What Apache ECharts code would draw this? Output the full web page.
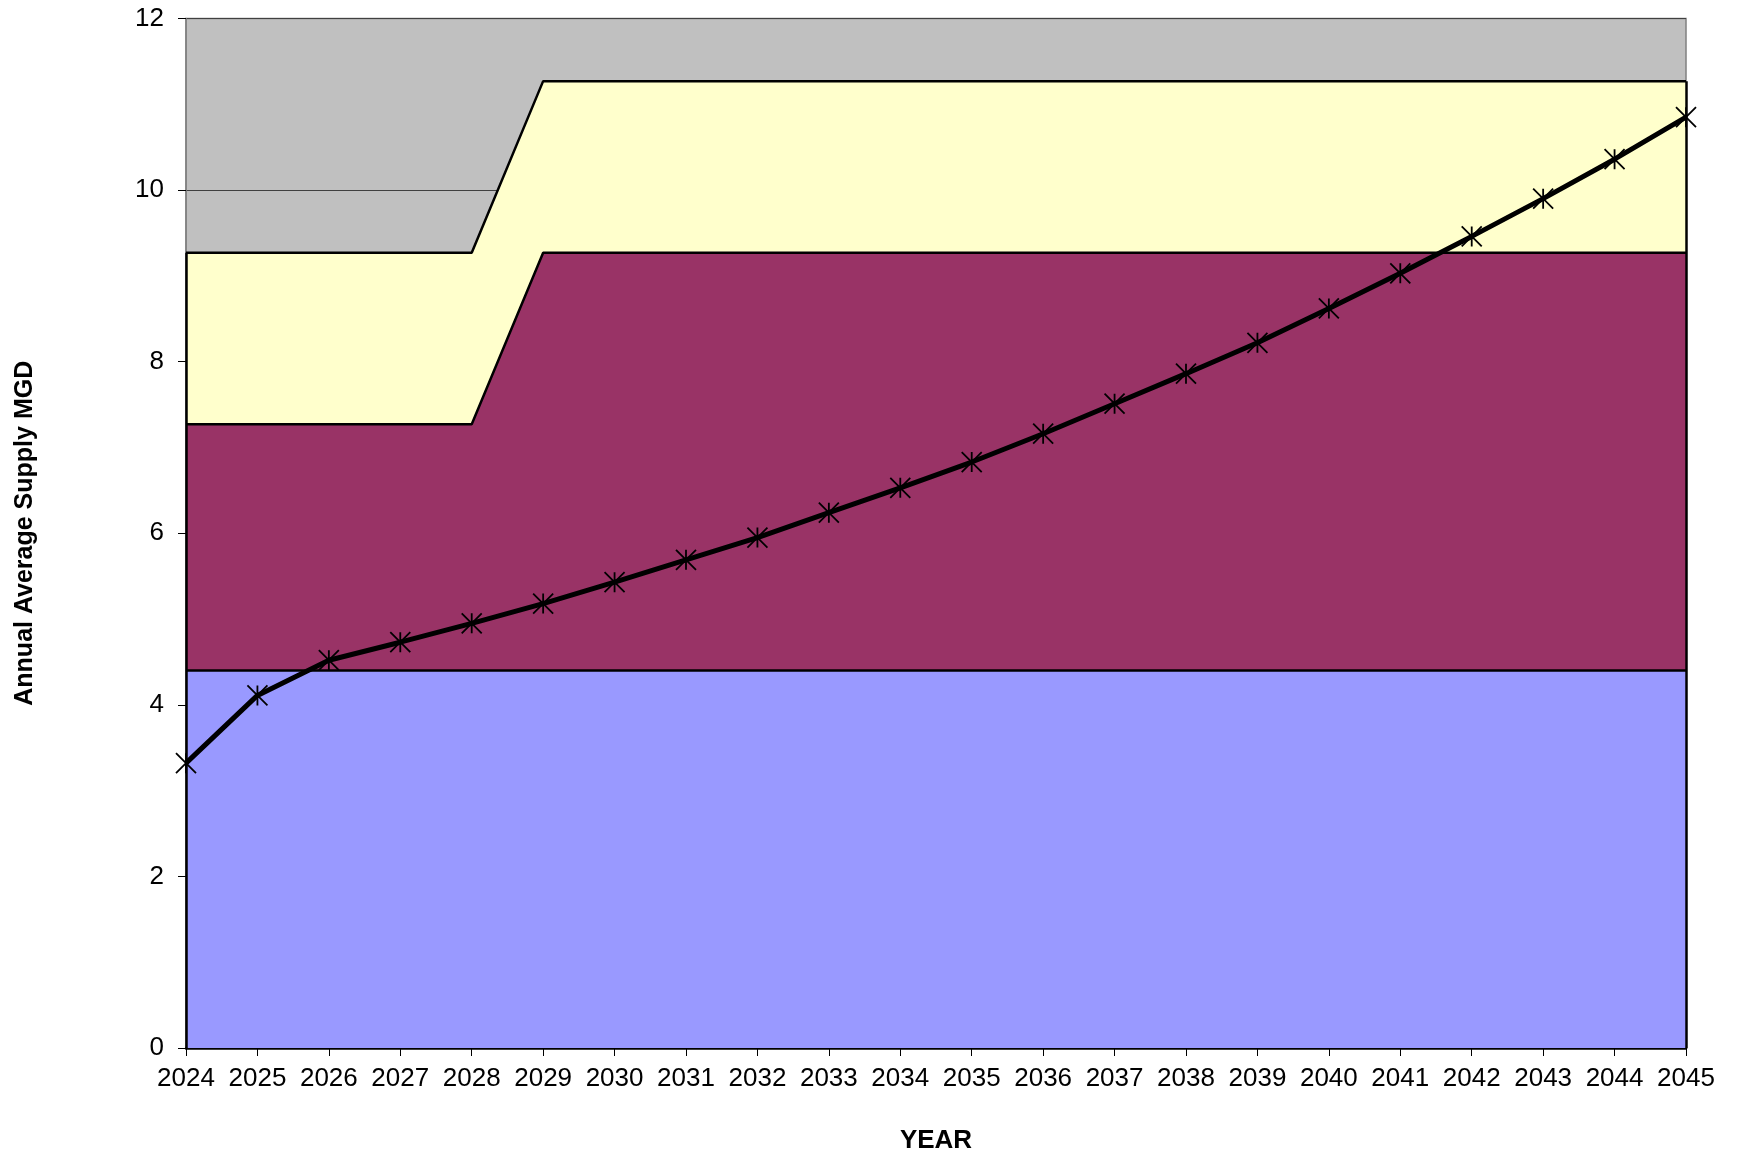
<!DOCTYPE html>
<html>
<head>
<meta charset="utf-8">
<script src="https://cdn.jsdelivr.net/npm/echarts@6/dist/echarts.min.js"></script>
<style>
html,body{margin:0;padding:0;background:#fff;}
#chart{width:1741px;height:1156px;}
</style>
</head>
<body>
<div id="chart"></div>
<script>
var years = ['2024','2025','2026','2027','2028','2029','2030','2031','2032','2033','2034','2035','2036','2037','2038','2039','2040','2041','2042','2043','2044','2045'];
var supplyBase = [4.4,4.4,4.4,4.4,4.4,4.4,4.4,4.4,4.4,4.4,4.4,4.4,4.4,4.4,4.4,4.4,4.4,4.4,4.4,4.4,4.4,4.4];
var supplyTier2 = [2.87,2.87,2.87,2.87,2.87,4.87,4.87,4.87,4.87,4.87,4.87,4.87,4.87,4.87,4.87,4.87,4.87,4.87,4.87,4.87,4.87,4.87];
var supplyTier3 = [2.0,2.0,2.0,2.0,2.0,2.0,2.0,2.0,2.0,2.0,2.0,2.0,2.0,2.0,2.0,2.0,2.0,2.0,2.0,2.0,2.0,2.0];
var demand = [3.32,4.11,4.52,4.73,4.95,5.18,5.43,5.69,5.95,6.24,6.53,6.83,7.16,7.51,7.86,8.22,8.62,9.03,9.46,9.90,10.36,10.85];
var yTicks = {min:0, max:12, interval:2};

var font = 'Liberation Sans, Arial, sans-serif';
var first = 0, last = years.length - 1;
var topFirst = supplyBase[first] + supplyTier2[first] + supplyTier3[first];
var topLast = supplyBase[last] + supplyTier2[last] + supplyTier3[last];

var star = 'path://M0,0L10,10M10,0L0,10M5,0L5,10';

var chart = echarts.init(document.getElementById('chart'));
chart.setOption({
  animation: false,
  backgroundColor: '#ffffff',
  grid: {
    left: 186, right: 55, top: 18.5, bottom: 108,
    outerBoundsMode: 'none', containLabel: false,
    show: true, backgroundColor: '#C0C0C0', borderColor: '#808080', borderWidth: 1.5
  },
  xAxis: {
    type: 'category',
    data: years,
    boundaryGap: false,
    name: 'YEAR',
    nameLocation: 'middle',
    nameGap: 80,
    nameTextStyle: {fontFamily: font, fontSize: 26, fontWeight: 'bold', color: '#000'},
    axisLine: {show: true, lineStyle: {color: '#000', width: 2.5}},
    axisTick: {show: true, length: 8, lineStyle: {color: '#000', width: 1}},
    axisLabel: {fontFamily: font, fontSize: 26, color: '#000', margin: 18, interval: 0},
    splitLine: {show: false}
  },
  yAxis: {
    type: 'value',
    min: yTicks.min, max: yTicks.max, interval: yTicks.interval,
    name: 'Annual Average Supply MGD',
    nameLocation: 'middle',
    nameGap: 148,
    nameTextStyle: {fontFamily: font, fontSize: 25, fontWeight: 'bold', color: '#000'},
    axisLine: {show: true, lineStyle: {color: '#808080', width: 1.5}},
    axisTick: {show: true, length: 8, lineStyle: {color: '#000', width: 1}},
    axisLabel: {fontFamily: font, fontSize: 26, color: '#000', margin: 22},
    splitLine: {show: true, lineStyle: {color: '#404040', width: 1}}
  },
  series: [
    {
      name: 'Base', type: 'line', stack: 'supply', data: supplyBase,
      symbol: 'none', lineStyle: {color: '#000', width: 2.5},
      areaStyle: {color: '#9999FF', opacity: 1}, z: 2
    },
    {
      name: 'Tier 2', type: 'line', stack: 'supply', data: supplyTier2,
      symbol: 'none', lineStyle: {color: '#000', width: 2.5},
      areaStyle: {color: '#993366', opacity: 1}, z: 2
    },
    {
      name: 'Tier 3', type: 'line', stack: 'supply', data: supplyTier3,
      symbol: 'none', lineStyle: {color: '#000', width: 2.5},
      areaStyle: {color: '#FFFFCC', opacity: 1}, z: 2,
      markLine: {
        silent: true, symbol: ['none', 'none'], label: {show: false},
        lineStyle: {color: '#000', width: 2.5, type: 'solid'},
        data: [
          [{coord: [years[first], 0]}, {coord: [years[first], topFirst]}],
          [{coord: [years[last], 0]}, {coord: [years[last], topLast]}]
        ]
      }
    },
    {
      name: 'Demand', type: 'line', data: demand,
      symbol: star, symbolSize: 20,
      itemStyle: {color: 'none', borderColor: '#000', borderWidth: 1.8},
      lineStyle: {color: '#000', width: 5},
      z: 5
    }
  ]
});
</script>
</body>
</html>
